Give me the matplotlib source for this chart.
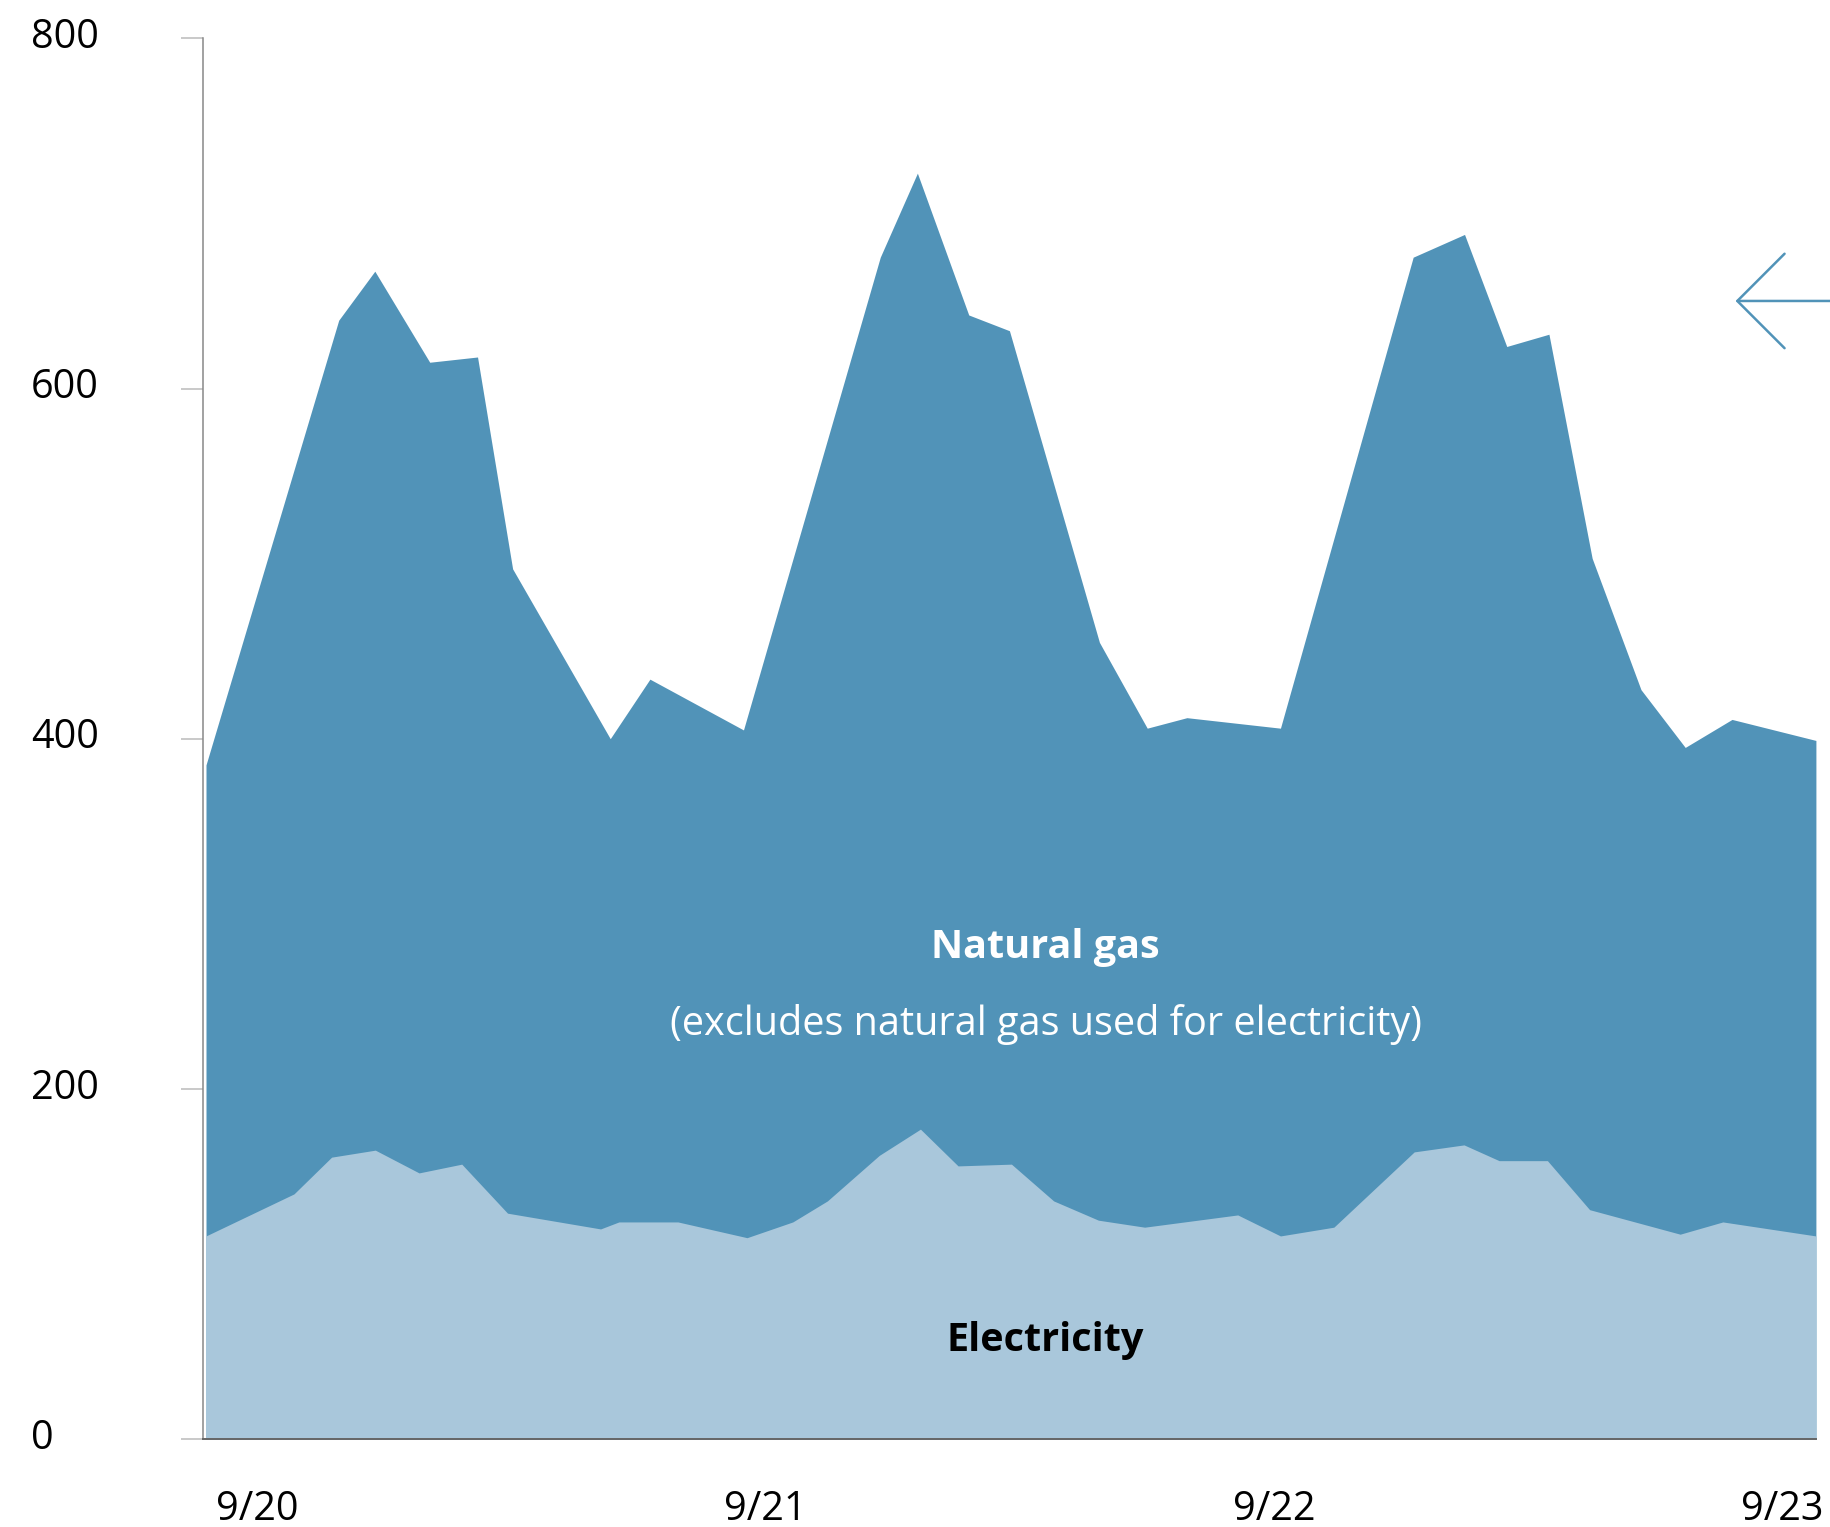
import matplotlib.pyplot as plt
from matplotlib.transforms import ScaledTranslation

plt.rcParams.update({
    'font.family': ['Open Sans', 'Noto Sans', 'DejaVu Sans'],
    'font.size': 28.5,
    'text.color': 'black',
})

# x in days since 9/20 00:00
# top of the stacked area (electricity + natural gas)
total_x = [-0.100, 0.161, 0.232, 0.340, 0.434, 0.503, 0.695, 0.773, 0.957,
           1.226, 1.299, 1.400, 1.480, 1.657, 1.751, 1.829, 2.013, 2.274,
           2.375, 2.458, 2.541, 2.626, 2.722, 2.809, 2.901, 3.066]
total_y = [385, 639, 667, 615, 618, 497, 400, 434, 405,
           675, 723, 642, 633, 455, 406, 412, 406, 675,
           688, 624, 631, 503, 428, 395, 411, 399]

# electricity layer
elec_x = [-0.100, 0.073, 0.147, 0.233, 0.319, 0.403, 0.493, 0.676, 0.712,
          0.828, 0.964, 1.054, 1.122, 1.224, 1.305, 1.379, 1.484, 1.567,
          1.655, 1.746, 1.929, 2.013, 2.118, 2.276, 2.374, 2.443, 2.538,
          2.621, 2.799, 2.883, 3.066]
elec_y = [116, 140, 161, 165, 152, 157, 129, 120, 124,
          124, 115, 124, 136, 162, 177, 156, 157, 136,
          125, 121, 128, 116, 121, 164, 168, 159, 159,
          131, 117, 124, 116]

day_ticks = [0, 1, 2, 3]
day_labels = ['9/20', '9/21', '9/22', '9/23']
y_ticks = [0, 200, 400, 600, 800]

GAS_COLOR = '#5193b8'
ELEC_COLOR = '#a9c7db'

fig = plt.figure(figsize=(18.3, 15.27), dpi=100)
ax = fig.add_axes([0.1109, 0.0576, 0.8814, 0.9173])

ax.fill_between(total_x, 0, total_y, color=GAS_COLOR, linewidth=0)
ax.fill_between(elec_x, 0, elec_y, color=ELEC_COLOR, linewidth=0)

ax.set_xlim(-0.106, 3.066)
ax.set_ylim(0, 800)

ax.set_yticks(y_ticks)
ax.set_yticklabels([str(v) for v in y_ticks])
ax.set_xticks(day_ticks)
ax.set_xticklabels(day_labels)

ax.tick_params(axis='y', length=15.8, width=1.1, color='#bbbbbb', pad=108)
nudge = ScaledTranslation(0, 4 / 72, fig.dpi_scale_trans)
for lbl in ax.get_yticklabels():
    lbl.set_horizontalalignment('left')
    lbl.set_transform(lbl.get_transform() + nudge)
ax.tick_params(axis='x', length=0, pad=36)

for side in ('top', 'right'):
    ax.spines[side].set_visible(False)
ax.spines['left'].set_color('#888888')
ax.spines['left'].set_linewidth(1.1)
ax.spines['bottom'].set_color('#666666')
ax.spines['bottom'].set_linewidth(1.4)

ax.text(1.551, 281, 'Natural gas', color='white', fontweight='bold',
        ha='center', va='center')
ax.text(1.551, 236.5, '(excludes natural gas used for electricity)', color='white',
        ha='center', va='center')
ax.text(1.551, 56, 'Electricity', color='black', fontweight='bold',
        ha='center', va='center')

# open arrow pointing at the chart from the right
ax.annotate('', xy=(2.908, 650), xytext=(3.094, 650), annotation_clip=False,
            arrowprops=dict(arrowstyle='->,head_length=3.4,head_width=3.4',
                            color=GAS_COLOR, lw=1.8, shrinkA=0, shrinkB=0,
                            mutation_scale=10))

fig.savefig('out.png', dpi=100)
